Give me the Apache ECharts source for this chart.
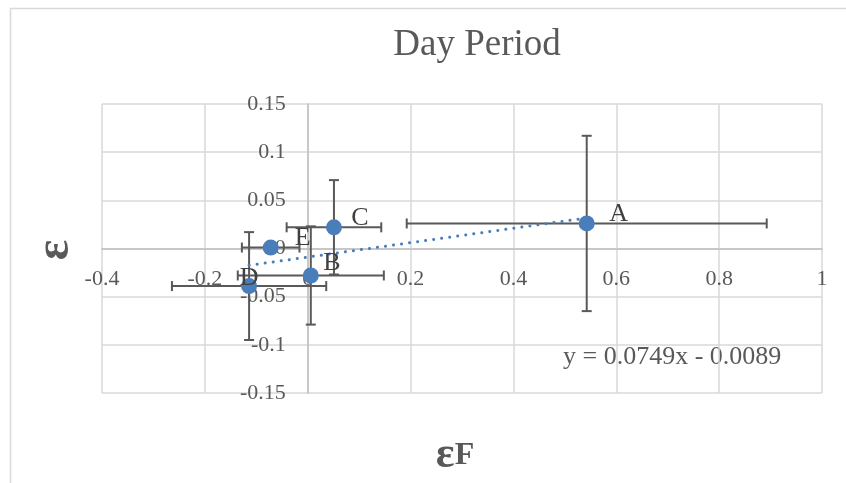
<!DOCTYPE html>
<html>
<head>
<meta charset="utf-8">
<script src="https://cdn.jsdelivr.net/npm/echarts@6/dist/echarts.min.js"></script>
<style>
  html, body { margin: 0; padding: 0; background: #fff; }
  #chart { width: 846px; height: 483px; }
</style>
</head>
<body>
<div id="chart"></div>
<script>
  // data
  const pointNames = ['A', 'B', 'C', 'D', 'E']
  const epsF = [0.5425, 0.006, 0.051, -0.114, -0.072]
  const eps = [0.026, -0.028, 0.022, -0.039, 0.001]
  const epsFErr = [0.35, 0.142, 0.092, 0.15, 0.056]
  const epsErr = [0.091, 0.051, 0.049, 0.056, 0.005]
  // linear trendline as printed on the chart
  const trendSlope = 0.0749
  const trendIntercept = -0.0089
  const trendLabel = 'y = 0.0749x - 0.0089'

  // label placement (px, relative to the marker centre)
  const labelOffsets = {A: [32, -9], B: [21, -12], C: [26, -9], D: [0, -8], E: [32, -9]}

  const textColor = '#595959'
  const blue = '#4a7ebb'
  const font = 'Liberation Serif'
  const gridPos = {left: 102, right: 24, top: 104, bottom: 90}

  let chart = echarts.init(document.getElementById('chart'))

  let errData = pointNames.map((n, i) => [epsF[i], eps[i], epsFErr[i], epsErr[i]])
  let pointData = pointNames.map((n, i) => ({
    name: n,
    value: [epsF[i], eps[i]],
    label: {offset: labelOffsets[n]}
  }))
  let xLo = Math.min(...epsF), xHi = Math.max(...epsF)
  let trendData = [[xLo, trendSlope * xLo + trendIntercept], [xHi, trendSlope * xHi + trendIntercept]]

  function renderErr(params, api) {
    let x = api.value(0), y = api.value(1), ex = api.value(2), ey = api.value(3)
    let l = api.coord([x - ex, y]), r = api.coord([x + ex, y])
    let t = api.coord([x, y + ey]), b = api.coord([x, y - ey])
    let c = 5
    let style = {stroke: '#595959', lineWidth: 2}
    let ln = (x1, y1, x2, y2) => ({type: 'line', shape: {x1, y1, x2, y2}, style: style})
    return {
      type: 'group',
      children: [
        ln(l[0], l[1], r[0], r[1]), ln(l[0], l[1] - c, l[0], l[1] + c), ln(r[0], r[1] - c, r[0], r[1] + c),
        ln(t[0], t[1], b[0], b[1]), ln(t[0] - c, t[1], t[0] + c, t[1]), ln(b[0] - c, b[1], b[0] + c, b[1])
      ]
    }
  }

  chart.setOption({
    animation: false,
    backgroundColor: '#fff',
    grid: gridPos,
    graphic: [
      {
        type: 'rect', silent: true,
        shape: {x: 10.5, y: 8.5, width: 1000, height: 600},
        style: {fill: 'none', stroke: '#d9d9d9', lineWidth: 1.5}
      },
      {
        type: 'text', x: 477, y: 45,
        style: {text: 'Day Period', fill: textColor, font: '37px "' + font + '"', align: 'center', verticalAlign: 'middle'}
      },
      {
        type: 'text', x: 455, y: 456,
        style: {
          text: '{e|ε}{f|F}', align: 'center', verticalAlign: 'middle',
          rich: {
            e: {fill: textColor, fontFamily: font, fontWeight: 'bold', fontSize: 44},
            f: {fill: textColor, fontFamily: font, fontWeight: 'bold', fontSize: 32}
          }
        }
      },
      {
        type: 'text', x: 56, y: 250, rotation: Math.PI / 2,
        style: {text: 'ε', fill: textColor, font: 'bold 48px "' + font + '"', align: 'center', verticalAlign: 'middle'}
      },
      {
        type: 'text', x: 563, y: 357,
        style: {text: trendLabel, fill: textColor, font: '26px "' + font + '"', align: 'left', verticalAlign: 'middle'}
      }
    ],
    xAxis: {
      type: 'value', min: -0.4, max: 1, interval: 0.2,
      axisLine: {show: true, onZero: false, lineStyle: {color: '#bfbfbf', width: 1.5}},
      axisTick: {show: false},
      axisLabel: {color: textColor, fontFamily: font, fontSize: 22, margin: 20},
      splitLine: {show: true, lineStyle: {color: '#d9d9d9', width: 1.5}}
    },
    yAxis: {
      type: 'value', min: -0.15, max: 0.15, interval: 0.05,
      axisLine: {show: true, onZero: false, lineStyle: {color: '#bfbfbf', width: 1.5}},
      axisTick: {show: false},
      axisLabel: {color: textColor, fontFamily: font, fontSize: 22, margin: 22},
      splitLine: {show: true, lineStyle: {color: '#d9d9d9', width: 1.5}}
    },
    series: [
      {
        type: 'custom',
        renderItem: renderErr,
        encode: {x: 0, y: 1},
        data: errData,
        z: 2
      },
      {
        type: 'line',
        data: trendData,
        showSymbol: false,
        lineStyle: {color: blue, width: 3, type: [0.1, 8], cap: 'round'},
        z: 3
      },
      {
        type: 'scatter',
        data: pointData,
        symbolSize: 16,
        itemStyle: {color: blue, opacity: 1},
        label: {
          show: true,
          position: 'inside',
          formatter: '{b}',
          color: '#404040',
          fontFamily: font,
          fontSize: 26
        },
        z: 4
      }
    ]
  })

  // move both axes (line + tick labels) onto the zero of the other axis, like Excel does
  let zero = chart.convertToPixel({gridIndex: 0}, [0, 0])
  chart.setOption({
    xAxis: {offset: zero[1] - (483 - gridPos.bottom)},
    yAxis: {offset: gridPos.left - zero[0]}
  })
</script>
</body>
</html>
